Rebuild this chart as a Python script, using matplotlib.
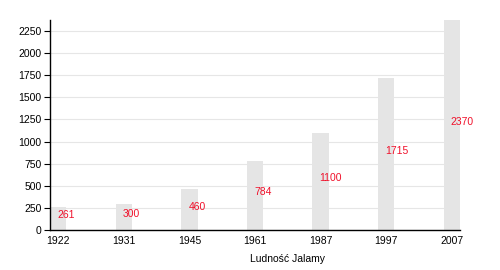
import numpy as np
import matplotlib.pyplot as plt

plt.rcParams['font.family'] = ['Liberation Sans', 'DejaVu Sans']

years = ['1922', '1931', '1945', '1961', '1987', '1997', '2007']
population = [261, 300, 460, 784, 1100, 1715, 2370]
xlabel = 'Ludność Jalamy'

fig = plt.figure(figsize=(5, 2.7), dpi=100)
ax = fig.add_axes([0.1, 0.148, 0.82, 0.778])

x = np.arange(len(years))
ax.bar(x, population, width=0.25, align='edge', color='#e5e5e5', zorder=2)
for xi, v in zip(x, population):
    ax.text(xi + 0.11, v / 2 + 35, str(v), color='#f0102a', fontsize=7.5,
            ha='left', va='center', zorder=3)

ax.set_xlim(0, len(years) - 0.75)
ax.set_ylim(0, 2375)
ax.set_yticks(np.arange(0, 2251, 250))
ax.set_xticks(x + 0.125)
ax.set_xticklabels(years)
ax.yaxis.grid(True, color='#e6e6e6', linewidth=0.8, zorder=0)
ax.set_axisbelow(True)
for s in ['top', 'right']:
    ax.spines[s].set_visible(False)
ax.spines['left'].set_linewidth(1.0)
ax.spines['bottom'].set_linewidth(1.0)
ax.tick_params(axis='x', length=0, labelsize=7.5, pad=4)
ax.tick_params(axis='y', length=4, width=0.8, labelsize=7.5, pad=2)

fig.text(287 / 500, 1 - 259 / 270, xlabel, fontsize=7.5, ha='center', va='center')

fig.savefig('out.png', dpi=100)
